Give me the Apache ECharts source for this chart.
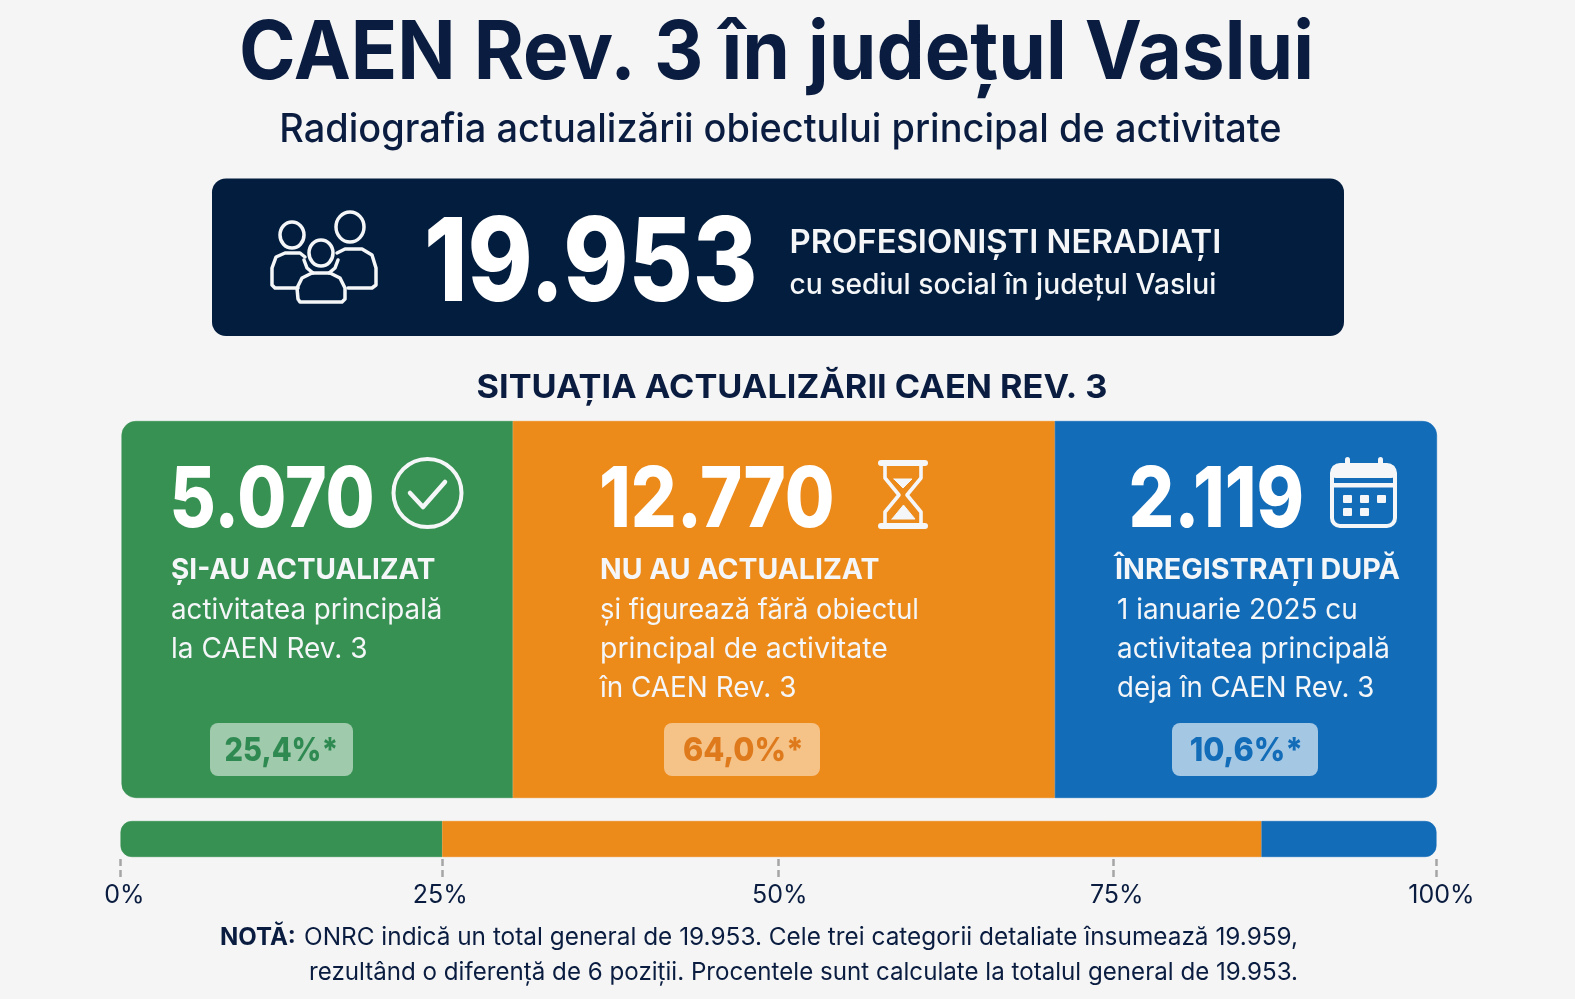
<!DOCTYPE html>
<html lang="ro">
<head>
<meta charset="utf-8">
<title>CAEN Rev. 3 în județul Vaslui</title>
<style>html,body{margin:0;padding:0;background:#f5f5f5}#c{width:1575px;height:999px}</style>
<script src="https://cdn.jsdelivr.net/npm/echarts@6/dist/echarts.min.js"></script>
</head>
<body>
<div id="c"></div>
<script>
// ---- data ----
const titleText = 'CAEN Rev. 3 în județul Vaslui';
const subtitleText = 'Radiografia actualizării obiectului principal de activitate';
const totalValue = '19.953';
const totalHeading = 'PROFESIONIȘTI NERADIAȚI';
const totalDetail = 'cu sediul social în județul Vaslui';
const sectionHeading = 'SITUAȚIA ACTUALIZĂRII CAEN REV. 3';
const categories = ['Și-au actualizat', 'Nu au actualizat', 'Înregistrați după'];
const panelShares = [29.75, 41.2, 29.05];
const barShares = [24.45, 62.25, 13.3];
const counts = ['5.070', '12.770', '2.119'];
const headings = ['ȘI-AU ACTUALIZAT', 'NU AU ACTUALIZAT', 'ÎNREGISTRAȚI DUPĂ'];
const details = [
  ['activitatea principală', 'la CAEN Rev. 3'],
  ['și figurează fără obiectul', 'principal de activitate', 'în CAEN Rev. 3'],
  ['1 ianuarie 2025 cu', 'activitatea principală', 'deja în CAEN Rev. 3']
];
const percents = ['25,4%*', '64,0%*', '10,6%*'];
const tickPositions = [0, 24.45, 50, 75.45, 100];
const labelPositions = [0.3, 24.3, 50.1, 75.7, 100];
const tickLabels = ['0%', '25%', '50%', '75%', '{last|100%}'];
const noteLead = 'NOTĂ:';
const noteLines = [
  'ONRC indică un total general de 19.953. Cele trei categorii detaliate însumează 19.959,',
  'rezultând o diferență de 6 poziții. Procentele sunt calculate la totalul general de 19.953.'
];

// ---- styles ----
const NAVY = '#0a1d40', BANNER = '#031d3e', WHITE = '#ffffff', ICON = '#f4f6f8';
const colors = ['#379152', '#ec8a1a', '#126cb8'];
const chipText = ['#2f8a52', '#de7a1c', '#126cb8'];
const chipFill = ['rgba(255,255,255,0.52)', 'rgba(255,255,255,0.48)', 'rgba(255,255,255,0.62)'];
const F = '"Inter","Noto Sans",sans-serif';

function txt(text, x, y, size, weight, fill, align, sx) {
  return { type: 'text', z: 100, scaleX: sx || 1, originX: x, originY: y,
    style: { text, x, y, fill, font: `${weight} ${size}px ${F}`, textAlign: align || 'left', textVerticalAlign: 'middle' } };
}
function rect(x, y, w, h, r, fill, stroke, lw) {
  return { type: 'rect', z: 100, shape: { x, y, width: w, height: h, r }, style: { fill: fill || 'none', stroke: stroke || 'none', lineWidth: lw || 0 } };
}
function poly(points, lw, fill) {
  return { type: 'polyline', z: 100, shape: { points }, style: { fill: fill || 'none', stroke: ICON, lineWidth: lw, lineCap: 'round', lineJoin: 'round' } };
}
function ell(cx, cy, rx, ry, lw, stroke) {
  return { type: 'ellipse', z: 100, shape: { cx, cy, rx, ry }, style: { fill: 'none', stroke: stroke || ICON, lineWidth: lw } };
}

const panelX = [171, 600, 1117];
const countX = [169.5, 599, 1128.5];
const headX = [171, 600, 1115];
const countScale = [0.846, 0.857, 0.855];
const headScale = [0.963, 0.98, 0.99];
const detailScale = [[0.99, 1], [0.975, 1.014, 0.995], [0.995, 0.995, 0.985]];
const chipScale = [0.88, 0.93, 0.93];
const chipShift = [0, 1.5, 1.5];
const chips = [[210, 143], [664, 156], [1172, 146]];
const elements = [
  txt(titleText, 776.5, 55, 81, 700, NAVY, 'center', 0.945),
  txt(subtitleText, 780.5, 130, 39, 500, NAVY, 'center', 0.973),
  rect(212, 178.5, 1132, 157.5, 14, BANNER),
  txt(totalValue, 424, 266, 116, 800, WHITE, 'left', 0.851),
  txt(totalHeading, 789.5, 243, 33, 600, ICON, 'left', 0.995),
  txt(totalDetail, 789.5, 285.5, 28.5, 500, ICON, 'left', 0.99),
  txt(sectionHeading, 792, 388, 33, 700, NAVY, 'center', 1.04),
  // people icon
  ell(350, 227, 14, 15, 3.5), ell(292, 235, 12, 13, 3.5), ell(321, 253, 12, 13, 3.5),
  poly([[298, 288], [275, 288], [272, 285], [272, 268], [276, 257], [285, 253], [300, 253], [305, 257]], 3.5),
  poly([[348, 288], [372, 288], [376, 285], [376, 268], [372, 255], [362, 249], [345, 249], [337, 253]], 3.5),
  poly([[304, 260], [307, 268], [313, 273]], 3.5),
  poly([[338, 260], [335, 268], [329, 273]], 3.5),
  poly([[298, 299], [300, 302], [342, 302], [345, 299], [345, 288], [340, 278], [330, 273], [312, 273], [302, 278], [297, 288], [298, 299]], 3.5),
  // check icon
  ell(427.5, 493, 34, 34, 4),
  poly([[410, 493], [423, 507], [445, 482]], 4.5),
  // hourglass icon
  rect(878, 460, 50, 6, 3, ICON), rect(878, 523, 50, 6, 3, ICON),
  poly([[885, 464], [885, 478], [899, 495], [885, 512], [885, 525]], 3.6),
  poly([[921, 464], [921, 478], [907, 495], [921, 512], [921, 525]], 3.6),
  poly([[894, 479], [912, 479], [903, 488], [894, 479]], 1, ICON),
  poly([[892, 519], [915, 519], [903.5, 505], [892, 519]], 1, ICON),
  // calendar icon
  rect(1332, 465, 63, 61, 8, 'none', ICON, 4),
  rect(1332, 465, 63, 13, 4, ICON),
  rect(1332, 483, 63, 4.5, 0, ICON),
  rect(1345, 457, 5, 12, 2.5, ICON), rect(1378, 457, 5, 12, 2.5, ICON),
  rect(1343, 495, 9, 8, 1, ICON), rect(1360, 495, 9, 8, 1, ICON), rect(1377, 495, 9, 8, 1, ICON),
  rect(1343, 508, 9, 8, 1, ICON), rect(1360, 508, 9, 8, 1, ICON),
  // note
  txt(noteLead, 220, 938, 24, 700, NAVY),
  txt(noteLines[0], 304, 938, 24.5, 400, NAVY, 'left', 0.995),
  txt(noteLines[1], 309, 973, 24.5, 400, NAVY, 'left', 0.985)
];
categories.forEach((c, i) => {
  elements.push(txt(counts[i], countX[i], 502, 84, 800, WHITE, 'left', countScale[i]));
  elements.push(txt(headings[i], headX[i], 570, 29, 700, ICON, 'left', headScale[i]));
  details[i].forEach((line, j) => {
    elements.push(txt(line, panelX[i], 611 + j * 39, 28, 400, ICON, 'left', detailScale[i][j]));
  });
  const [cx, cw] = chips[i];
  elements.push(rect(cx, 723, cw, 53, 8, chipFill[i]));
  elements.push(txt(percents[i], cx + cw / 2 + chipShift[i], 751, 33, 800, chipText[i], 'center', chipScale[i]));
});

const panelSeries = categories.map((name, i) => ({
  name, type: 'bar', stack: 'panel', xAxisIndex: 0, yAxisIndex: 0, barWidth: '100%', silent: true,
  data: [panelShares[i]],
  itemStyle: { color: colors[i], borderColor: colors[i], borderWidth: 0.6, borderRadius: i === 0 ? [14, 0, 0, 14] : i === 2 ? [0, 14, 14, 0] : 0 }
}));
const barSeries = categories.map((name, i) => ({
  name, type: 'bar', stack: 'bar', xAxisIndex: 1, yAxisIndex: 1, barWidth: '100%', silent: true,
  data: [barShares[i]],
  itemStyle: { color: colors[i], borderColor: colors[i], borderWidth: 0.6, borderRadius: i === 0 ? [11, 0, 0, 11] : i === 2 ? [0, 11, 11, 0] : 0 }
}));

const chart = echarts.init(document.getElementById('c'), null, { renderer: 'canvas' });
chart.setOption({
  animation: false,
  backgroundColor: '#f5f5f5',
  tooltip: { show: false },
  grid: [
    { left: 121.5, top: 421, width: 1315.5, height: 377, containLabel: false },
    { left: 120.5, top: 821, width: 1316, height: 36, containLabel: false }
  ],
  xAxis: [
    { gridIndex: 0, type: 'value', min: 0, max: 100, show: false },
    {
      gridIndex: 1, type: 'value', min: 0, max: 100, offset: 2, position: 'bottom',
      splitLine: { show: false }, axisLine: { show: false },
      axisTick: { show: true, customValues: tickPositions, length: 18, inside: false,
        lineStyle: { color: '#a5a5a5', width: 2.5, type: [7, 4] } },
      axisLabel: { show: true, customValues: labelPositions, margin: 24, hideOverlap: false,
        showMinLabel: true, showMaxLabel: true,
        color: NAVY, fontFamily: 'Inter', fontSize: 25, fontWeight: 400,
        rich: { last: { color: NAVY, fontFamily: 'Inter', fontSize: 25, padding: [0, 0, 0, 10] } },
        formatter: v => tickLabels[labelPositions.indexOf(v)] }
    }
  ],
  yAxis: [
    { gridIndex: 0, type: 'category', data: ['panouri'], show: false },
    { gridIndex: 1, type: 'category', data: ['total'], show: false }
  ],
  series: panelSeries.concat(barSeries),
  graphic: { elements }
});
</script>
</body>
</html>
